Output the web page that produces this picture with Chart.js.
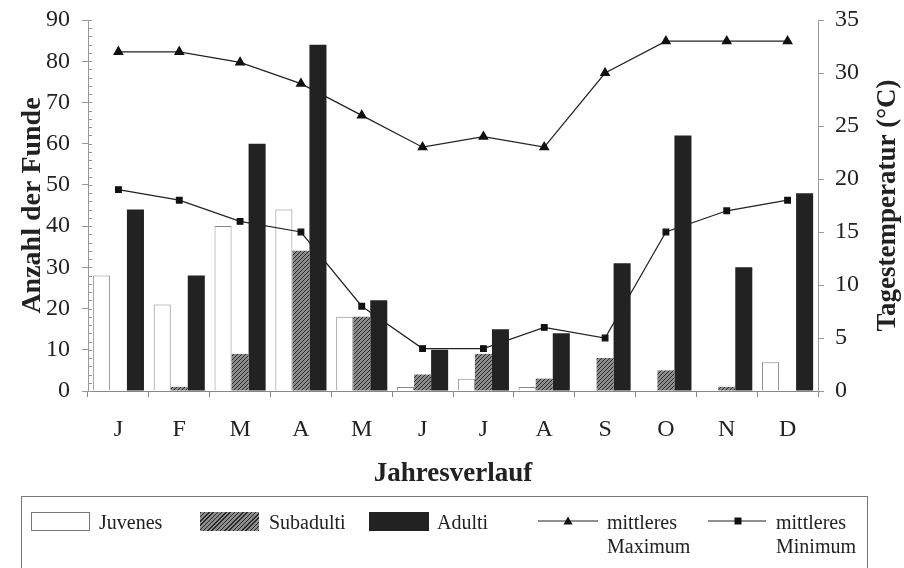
<!DOCTYPE html>
<html>
<head>
<meta charset="utf-8">
<script src="https://cdn.jsdelivr.net/npm/chart.js@4.4.1/dist/chart.umd.min.js"></script>
<style>
  body { margin: 0; background: #fff; }
  #wrap { position: relative; width: 904px; height: 568px; overflow: hidden; }
  #legend {
    position: absolute; left: 21px; top: 496px; width: 845px; height: 90px;
    border: 1.5px solid #777; font-family: "Liberation Serif", serif; font-size: 20px; color: #222;
  }
  .sw { position: absolute; top: 15px; height: 19px; box-sizing: border-box; }
  .lbl { position: absolute; top: 13px; line-height: 24px; }
  .ln { position: absolute; top: 18px; }
</style>
</head>
<body>
<div id="wrap">
  <canvas id="FundeChart" width="904" height="568"></canvas>
  <div id="legend">
    <div class="sw" style="left:9px;width:59px;border:1px solid #777;background:#fff"></div>
    <div class="lbl" style="left:77px">Juvenes</div>
    <div class="sw" style="left:178px;width:59px;background:repeating-linear-gradient(-45deg,#2a2a2a 0 1px,#8c8c8c 1px 3px)"></div>
    <div class="lbl" style="left:247px">Subadulti</div>
    <div class="sw" style="left:347px;width:60px;background:#222"></div>
    <div class="lbl" style="left:415px">Adulti</div>
    <svg class="ln" style="left:516px" width="62" height="12">
      <line x1="0" y1="6" x2="60" y2="6" stroke="#222" stroke-width="1.2"/>
      <polygon points="30,1.5 34.5,9.5 25.5,9.5" fill="#111"/>
    </svg>
    <div class="lbl" style="left:585px">mittleres<br>Maximum</div>
    <svg class="ln" style="left:686px" width="60" height="12">
      <line x1="0" y1="6" x2="58" y2="6" stroke="#222" stroke-width="1.2"/>
      <rect x="26.5" y="2.5" width="7" height="7" fill="#111"/>
    </svg>
    <div class="lbl" style="left:754px">mittleres<br>Minimum</div>
  </div>
</div>
<script>
var months = ["J", "F", "M", "A", "M", "J", "J", "A", "S", "O", "N", "D"];
var juvenes = [28, 21, 40, 44, 18, 1, 3, 1, 0, 0, 0, 7];
var subadulti = [0, 1, 9, 34, 18, 4, 9, 3, 8, 5, 1, 0];
var adulti = [44, 28, 60, 84, 22, 10, 15, 14, 31, 62, 30, 48];
var tempMax = [32, 32, 31, 29, 26, 23, 24, 23, 30, 33, 33, 33];
var tempMin = [19, 18, 16, 15, 8, 4, 4, 6, 5, 15, 17, 18];
var rightTitle = "Tagestemperatur (°C)";

// hatch fill for the Subadulti bars
function hatch() {
  var c = document.createElement("canvas");
  c.width = 4; c.height = 4;
  var g = c.getContext("2d");
  g.fillStyle = "#8c8c8c";
  g.fillRect(0, 0, 4, 4);
  g.strokeStyle = "#2a2a2a";
  g.lineWidth = 1;
  g.beginPath();
  g.moveTo(0, 4); g.lineTo(4, 0);
  g.moveTo(-1, 1); g.lineTo(1, -1);
  g.moveTo(3, 5); g.lineTo(5, 3);
  g.stroke();
  return g.createPattern(c, "repeat");
}

var serif = "'Liberation Serif', 'Times New Roman', serif";
Chart.defaults.font.family = serif;
Chart.defaults.color = "#222";

// minor ticks on the left axis + right title reading bottom-to-top
var extras = {
  id: "extras",
  afterDraw: function (chart) {
    var y = chart.scales.y, c = chart.ctx;
    c.save();
    c.strokeStyle = "#999";
    c.lineWidth = 1;
    for (var v = 0; v <= 90; v += 2) {
      var py = Math.round(y.getPixelForValue(v)) + 0.5;
      c.beginPath();
      c.moveTo(y.right, py);
      c.lineTo(y.right + 4, py);
      c.stroke();
    }
    c.translate(888, (chart.chartArea.top + chart.chartArea.bottom) / 2);
    c.rotate(-Math.PI / 2);
    c.fillStyle = "#222";
    c.font = "bold 27px " + serif;
    c.textAlign = "center";
    c.textBaseline = "middle";
    c.fillText(rightTitle, 0, 0);
    c.restore();
  }
};

function fixV(w) {
  return function (s) { s.width = w; s.paddingTop = 0; s.paddingBottom = 0; };
}

var ctx = document.getElementById("FundeChart");
var myChart = new Chart(ctx, {
  type: "bar",
  data: {
    labels: months,
    datasets: [
      {
        type: "line", label: "mittleres Maximum", data: tempMax, yAxisID: "y1", order: 0,
        borderColor: "#222", borderWidth: 1.2, pointStyle: "triangle", pointRadius: 5,
        pointBackgroundColor: "#111", pointBorderColor: "#111", tension: 0
      },
      {
        type: "line", label: "mittleres Minimum", data: tempMin, yAxisID: "y1", order: 0,
        borderColor: "#222", borderWidth: 1.2, pointStyle: "rect", pointRadius: 4,
        pointBackgroundColor: "#111", pointBorderColor: "#111", tension: 0
      },
      {
        label: "Juvenes", data: juvenes, yAxisID: "y", order: 1,
        backgroundColor: "#fff", borderColor: "#888", borderWidth: 1
      },
      {
        label: "Subadulti", data: subadulti, yAxisID: "y", order: 1,
        backgroundColor: hatch(), borderWidth: 0
      },
      {
        label: "Adulti", data: adulti, yAxisID: "y", order: 1,
        backgroundColor: "#222", borderWidth: 0
      }
    ]
  },
  options: {
    responsive: false,
    animation: false,
    layout: { padding: { top: 20, bottom: 67, left: 0, right: 0 } },
    datasets: { bar: { categoryPercentage: 0.84, barPercentage: 1 } },
    plugins: { legend: { display: false }, tooltip: { enabled: false } },
    scales: {
      x: {
        grid: { drawOnChartArea: false, tickLength: 6, color: "#888", offset: true },
        border: { color: "#888" },
        ticks: { font: { size: 24 }, padding: 18, color: "#222" },
        title: { display: true, text: "Jahresverlauf", font: { size: 27, weight: "bold" }, padding: { top: 0, bottom: 11 }, color: "#222" },
        afterFit: function (s) { s.height = 110; s.paddingLeft = 0; s.paddingRight = 0; }
      },
      y: {
        position: "left", min: 0, max: 90,
        grid: { drawOnChartArea: false, tickLength: 6, color: "#999" },
        border: { color: "#999" },
        ticks: { stepSize: 10, font: { size: 24 }, padding: 12, color: "#222" },
        title: { display: true, text: "Anzahl der Funde", font: { size: 28, weight: "bold" }, padding: { top: 16 }, color: "#222" },
        afterFit: fixV(88)
      },
      y1: {
        position: "right", min: 0, max: 35,
        grid: { drawOnChartArea: false, tickLength: 6, color: "#999" },
        border: { color: "#999" },
        ticks: { stepSize: 5, font: { size: 24 }, padding: 11, color: "#222" },
        afterFit: fixV(86)
      }
    }
  },
  plugins: [extras]
});
</script>
</body>
</html>
